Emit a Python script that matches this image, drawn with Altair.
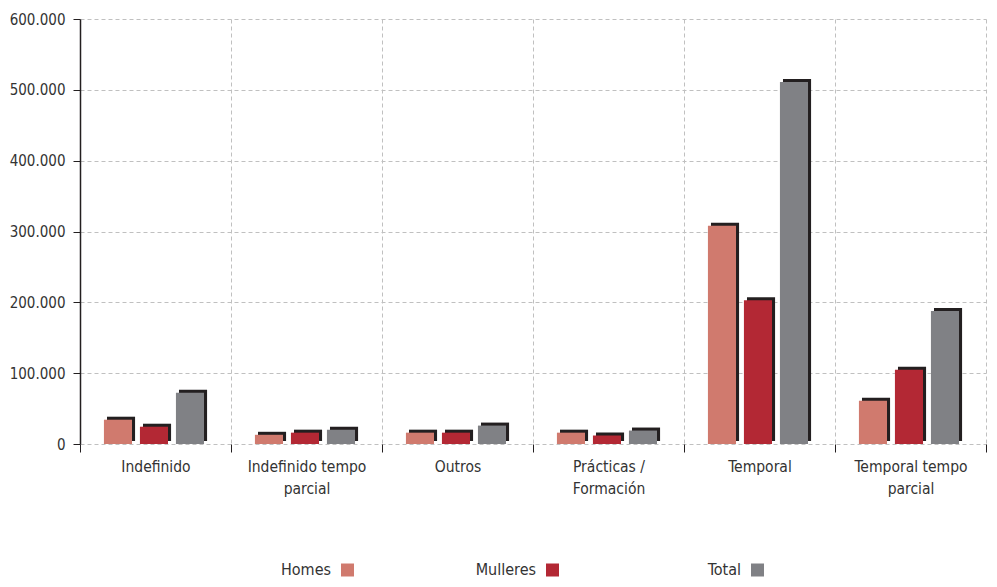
import altair as alt
import pandas as pd

categories = ["Indefinido", "Indefinido tempo parcial", "Outros",
              "Prácticas / Formación", "Temporal", "Temporal tempo parcial"]
series = ["Homes", "Mulleres", "Total"]
homes = [34300, 13000, 16000, 16000, 308000, 61000]
mulleres = [24400, 16000, 16000, 12000, 203000, 105000]
total = [72400, 20000, 26000, 19000, 511000, 187700]
colors = ["#d07a6e", "#b32834", "#808185"]
y_ticks = [0, 100000, 200000, 300000, 400000, 500000, 600000]

rows = []
for i, c in enumerate(categories):
    for s, vals in zip(series, [homes, mulleres, total]):
        rows.append({"categoria": c, "serie": s, "sombra": s, "valor": vals[i]})
df = pd.DataFrame(rows)

FONT = "DejaVu Sans Condensed, DejaVu Sans, sans-serif"
TXT = "#333333"
DARK = "#231f20"
GRID = "#c0c0c0"

label_expr = ("datum.label == 'Indefinido tempo parcial' ? ['Indefinido tempo', 'parcial'] : "
              "datum.label == 'Prácticas / Formación' ? ['Prácticas /', 'Formación'] : "
              "datum.label == 'Temporal tempo parcial' ? ['Temporal tempo', 'parcial'] : datum.label")

x = alt.X("categoria:N", sort=categories, title=None,
          scale=alt.Scale(paddingInner=0, paddingOuter=0),
          axis=alt.Axis(tickBand="extent", labelAngle=0, labelExpr=label_expr,
                        labelFont=FONT, labelFontSize=15.5, labelColor=TXT,
                        labelLineHeight=22, labelPadding=7, labelBaseline="top",
                        domain=False, ticks=True, tickSize=8, tickColor=DARK,
                        grid=True, gridDash=[4, 3], gridColor=GRID))
y = alt.Y("valor:Q", title=None,
          scale=alt.Scale(domain=[0, 600000], nice=False),
          axis=alt.Axis(values=y_ticks, labelExpr="replace(format(datum.value, ','), ',', '.')",
                        labelFont=FONT, labelFontSize=15, labelColor=TXT, labelPadding=8,
                        domain=True, domainColor=DARK, domainWidth=1.5,
                        ticks=True, tickSize=7, tickColor=DARK,
                        grid=True, gridDash=[4, 3], gridColor=GRID))

base = alt.Chart(df)
shadow = base.mark_bar(color=DARK, yOffset=-3, y2Offset=-1).encode(
    x=x,
    xOffset=alt.XOffset("sombra:N", sort=series,
                        scale=alt.Scale(paddingInner=0.22, paddingOuter=0.707, align=0.53)),
    y=y)
bars = base.mark_bar().encode(
    x=x,
    xOffset=alt.XOffset("serie:N", sort=series,
                        scale=alt.Scale(paddingInner=0.22, paddingOuter=0.707, align=0.47)),
    y=y,
    color=alt.Color("serie:N", sort=series,
                    scale=alt.Scale(domain=series, range=colors), legend=None))

main = alt.layer(shadow, bars).resolve_scale(xOffset="independent").properties(
    width=906, height=425, view=alt.ViewBackground(stroke="transparent"))

leg_df = pd.DataFrame({"serie": series})
lx = alt.X("serie:N", sort=series, axis=None,
           scale=alt.Scale(type="point", domain=series, range=[256, 666], padding=0))
leg_text = alt.Chart(leg_df).mark_text(align="right", dx=-5, font=FONT, fontSize=16,
                                       color=TXT).encode(x=lx, text="serie:N")
leg_sq = alt.Chart(leg_df).mark_square(size=169, opacity=1, xOffset=11.5).encode(
    x=lx,
    color=alt.Color("serie:N", sort=series,
                    scale=alt.Scale(domain=series, range=colors), legend=None))
legend = alt.layer(leg_text, leg_sq).properties(
    width=906, height=16, view=alt.ViewBackground(stroke="transparent"))

chart = alt.vconcat(main, legend, spacing=64).properties(
    padding={"left": 0, "top": 3, "right": 0, "bottom": 0}
).configure_view(stroke="transparent").configure(background="white")

chart.save("out.html", embed_options={"renderer": "svg", "actions": False})
